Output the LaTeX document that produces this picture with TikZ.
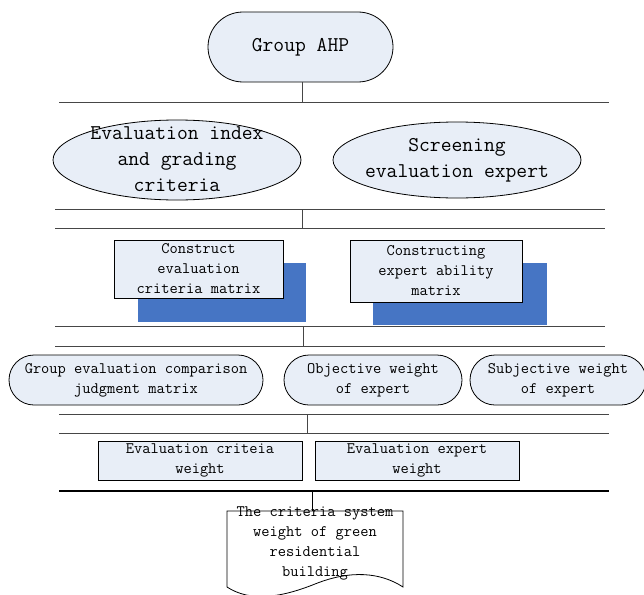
\documentclass[tikz,border=0pt]{standalone}
\usepackage{fontspec}
\usetikzlibrary{shapes.geometric}
\definecolor{boxfill}{RGB}{232,238,247}
\definecolor{shadowblue}{RGB}{70,117,196}
\definecolor{rulegray}{RGB}{70,70,70}
\tikzset{
  base/.style={draw=black, fill=boxfill, line width=0.8pt, inner sep=0pt},
  boxnode/.style={base, rectangle},
  stadnode/.style={base, rectangle, rounded corners=#1},
  ellnode/.style={base, ellipse},
  smalltext/.style={font=\fontsize{16}{20}\selectfont\ttfamily, align=center, inner sep=0pt},
  bigtext/.style={font=\fontsize{21}{26}\selectfont\ttfamily, align=center, inner sep=0pt},
  hrule/.style={draw=rulegray, line width=1pt},
  thickrule/.style={draw=black, line width=2.6pt},
  shadowbox/.style={fill=shadowblue, draw=none},
}
\begin{document}
\begin{tikzpicture}[x=1pt,y=-1pt]
\useasboundingbox (0,0) rectangle (644,594);
% Group AHP
\node[stadnode=35pt, minimum width=185pt, minimum height=70pt, bigtext] (ahp) at (300.5,47) {Group AHP};
% rule 1
\coordinate (r1l) at (59,102); \coordinate (r1r) at (609,102); \coordinate (r1m) at (302,102);
\draw[hrule] (r1l) -- (r1r);
\draw[hrule] (ahp.south -| r1m) -- (r1m);
% ellipses
\node[ellnode, minimum width=248pt, minimum height=80pt] (e1) at (177,160) {};
\node[bigtext] (e1t) at (177,159) {Evaluation index\\and grading\\criteria};
\node[ellnode, minimum width=248pt, minimum height=76pt] (e2) at (457,160) {};
\node[bigtext] (e2t) at (457,160) {Screening\\evaluation expert};
% rules 2,3
\coordinate (r2l) at (55,209); \coordinate (r2r) at (605,209); \coordinate (r2m) at (302,209);
\coordinate (r3l) at (55,228); \coordinate (r3r) at (605,228); \coordinate (r3m) at (302,228);
\draw[hrule] (r2l) -- (r2r);
\draw[hrule] (r3l) -- (r3r);
\draw[hrule] (r2m) -- (r3m);
% matrix boxes with shadows
\fill[shadowbox] (138,263) rectangle (306,322);
\node[boxnode, minimum width=169pt, minimum height=58pt, smalltext] (m1) at (198.5,269) {Construct\\evaluation\\criteria matrix};
\fill[shadowbox] (373,263) rectangle (547,325);
\node[boxnode, minimum width=172pt, minimum height=62pt, smalltext] (m2) at (436,271) {Constructing\\expert ability\\matrix};
% rules 4,5
\coordinate (r4l) at (55,326); \coordinate (r4r) at (605,326); \coordinate (r4m) at (303,326);
\coordinate (r5l) at (55,346); \coordinate (r5r) at (605,346); \coordinate (r5m) at (303,346);
\draw[hrule] (r4l) -- (r4r);
\draw[hrule] (r5l) -- (r5r);
\draw[hrule] (r4m) -- (r5m);
% stadium row
\node[stadnode=25pt, minimum width=254pt, minimum height=50pt, smalltext] (s1) at (136,380) {Group evaluation comparison\\judgment matrix};
\node[stadnode=25pt, minimum width=178pt, minimum height=50pt, smalltext] (s2) at (373,380) {Objective weight\\of expert};
\node[stadnode=25pt, minimum width=176pt, minimum height=50pt, smalltext] (s3) at (558,380) {Subjective weight\\of expert};
% rules 6,7
\coordinate (r6l) at (59,414); \coordinate (r6r) at (609,414); \coordinate (r6m) at (307,414);
\coordinate (r7l) at (59,433); \coordinate (r7r) at (609,433); \coordinate (r7m) at (307,433);
\draw[hrule] (r6l) -- (r6r);
\draw[hrule] (r7l) -- (r7r);
\draw[hrule] (r6m) -- (r7m);
% weight boxes
\node[boxnode, minimum width=204pt, minimum height=39pt, smalltext] (w1) at (200,460.5) {Evaluation criteia\\weight};
\node[boxnode, minimum width=204pt, minimum height=39pt, smalltext] (w2) at (417,460.5) {Evaluation expert\\weight};
% thick rule
\coordinate (r8l) at (59,491); \coordinate (r8r) at (609,491); \coordinate (r8m) at (312,491);
\draw[thickrule] (r8l) -- (r8r);
% document shape
\coordinate (dtl) at (227,511); \coordinate (dtr) at (403,511);
\coordinate (dtm) at (312,511);
\draw[hrule, draw=black, line width=0.8pt] (r8m) -- (dtm);
\draw[draw=black, fill=white, line width=0.8pt] (dtl) -- (dtr) -- (403,587)
  .. controls (380,572) and (350,570) .. (315,584)
  .. controls (280,598) and (250,602) .. (227,587) -- cycle;
\node[smalltext] (doc) at (315,543.5) {The criteria system\\weight of green\\residential\\building};
\end{tikzpicture}
\end{document}
